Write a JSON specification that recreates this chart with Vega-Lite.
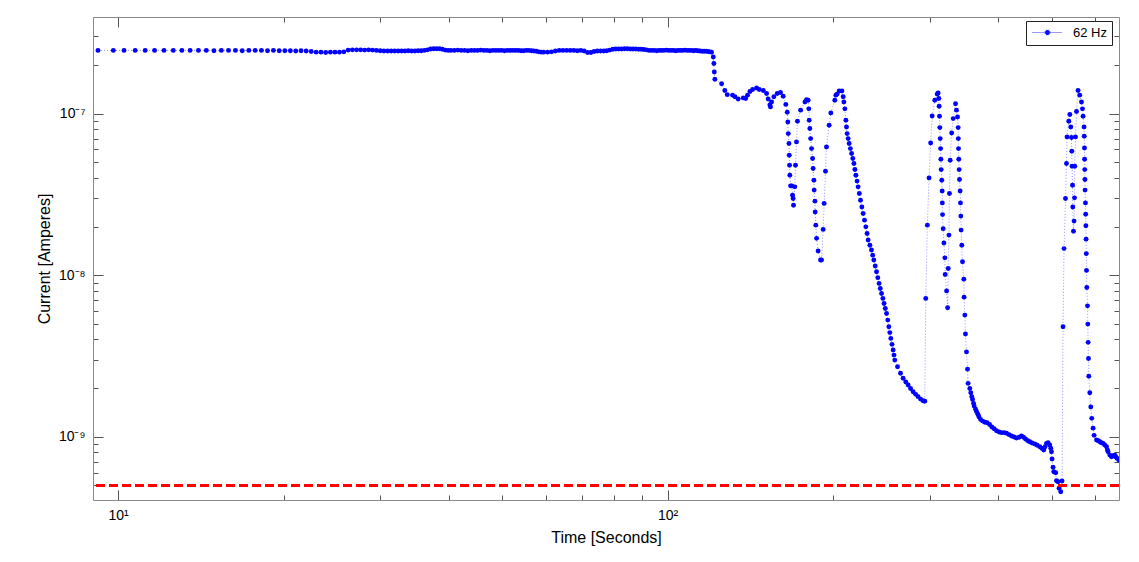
{
"$schema":"https://vega.github.io/schema/vega-lite/v6.json",
"width":1026,"height":483,
"autosize":{"type":"none"},
"padding":{"left":93,"top":17,"right":20,"bottom":62},
"background":"#ffffff",
"config":{"font":"Liberation Sans","view":{"stroke":null},"axis":{"grid":false,"domainColor":"#8a8a8a","domainWidth":1,"tickColor":"#555555","tickWidth":1,"labelFont":"Liberation Sans","labelFontSize":14,"labelColor":"#000000","titleFont":"Liberation Sans","titleFontSize":16,"titleFontWeight":"normal","titleColor":"#000000","labelOverlap":false,"labelFlush":false}},
"data":{"values":[
{"time":9.19,"current":2.46e-7},{"time":9.8,"current":2.46e-7},{"time":10.25,"current":2.46e-7},{"time":10.74,"current":2.46e-7},{"time":11.2,"current":2.46e-7},{"time":11.65,"current":2.46e-7},{"time":12.12,"current":2.46e-7},{"time":12.6,"current":2.46e-7},{"time":13.06,"current":2.46e-7},{"time":13.52,"current":2.46e-7},{"time":14.0,"current":2.46e-7},{"time":14.47,"current":2.46e-7},{"time":14.94,"current":2.45e-7},{"time":15.41,"current":2.46e-7},{"time":15.88,"current":2.46e-7},{"time":16.35,"current":2.46e-7},{"time":16.82,"current":2.45e-7},{"time":17.29,"current":2.46e-7},{"time":17.76,"current":2.46e-7},{"time":18.23,"current":2.46e-7},{"time":18.7,"current":2.45e-7},{"time":19.17,"current":2.46e-7},{"time":19.64,"current":2.45e-7},{"time":20.11,"current":2.45e-7},{"time":20.58,"current":2.45e-7},{"time":21.05,"current":2.44e-7},{"time":21.52,"current":2.45e-7},{"time":21.99,"current":2.44e-7},{"time":22.46,"current":2.42e-7},{"time":22.93,"current":2.40e-7},{"time":23.4,"current":2.40e-7},{"time":23.87,"current":2.39e-7},{"time":24.34,"current":2.40e-7},{"time":24.81,"current":2.40e-7},{"time":25.28,"current":2.40e-7},{"time":25.75,"current":2.41e-7},{"time":26.22,"current":2.47e-7},{"time":26.69,"current":2.48e-7},{"time":27.16,"current":2.48e-7},{"time":27.63,"current":2.48e-7},{"time":28.1,"current":2.47e-7},{"time":28.57,"current":2.48e-7},{"time":29.04,"current":2.47e-7},{"time":29.51,"current":2.46e-7},{"time":29.98,"current":2.45e-7},{"time":30.45,"current":2.44e-7},{"time":30.92,"current":2.44e-7},{"time":31.39,"current":2.44e-7},{"time":31.86,"current":2.44e-7},{"time":32.33,"current":2.44e-7},{"time":32.8,"current":2.44e-7},{"time":33.27,"current":2.44e-7},{"time":33.74,"current":2.45e-7},{"time":34.21,"current":2.44e-7},{"time":34.68,"current":2.44e-7},{"time":35.15,"current":2.45e-7},{"time":35.62,"current":2.45e-7},{"time":36.09,"current":2.46e-7},{"time":36.56,"current":2.48e-7},{"time":37.03,"current":2.51e-7},{"time":37.5,"current":2.52e-7},{"time":37.97,"current":2.52e-7},{"time":38.44,"current":2.52e-7},{"time":38.91,"current":2.50e-7},{"time":39.38,"current":2.47e-7},{"time":39.85,"current":2.46e-7},
{"time":40.3,"current":2.46e-7},{"time":40.9,"current":2.46e-7},{"time":41.5,"current":2.47e-7},{"time":42.1,"current":2.46e-7},{"time":42.7,"current":2.46e-7},{"time":43.3,"current":2.45e-7},{"time":43.9,"current":2.46e-7},{"time":44.5,"current":2.46e-7},{"time":45.1,"current":2.46e-7},{"time":45.7,"current":2.47e-7},{"time":46.3,"current":2.46e-7},{"time":46.9,"current":2.46e-7},{"time":47.5,"current":2.45e-7},{"time":48.1,"current":2.46e-7},{"time":48.7,"current":2.46e-7},{"time":49.3,"current":2.46e-7},{"time":49.9,"current":2.46e-7},{"time":50.5,"current":2.45e-7},{"time":51.1,"current":2.46e-7},{"time":51.7,"current":2.46e-7},{"time":52.3,"current":2.46e-7},{"time":52.9,"current":2.46e-7},{"time":53.5,"current":2.46e-7},{"time":54.1,"current":2.45e-7},{"time":54.7,"current":2.45e-7},{"time":55.3,"current":2.46e-7},{"time":55.9,"current":2.46e-7},{"time":56.5,"current":2.45e-7},{"time":57.1,"current":2.44e-7},{"time":57.7,"current":2.43e-7},{"time":58.3,"current":2.41e-7},{"time":58.9,"current":2.40e-7},{"time":59.5,"current":2.40e-7},
{"time":60.5,"current":2.40e-7},{"time":61.5,"current":2.41e-7},{"time":62.5,"current":2.44e-7},{"time":63.5,"current":2.46e-7},{"time":64.5,"current":2.46e-7},{"time":65.5,"current":2.46e-7},{"time":66.5,"current":2.46e-7},{"time":67.5,"current":2.46e-7},{"time":68.5,"current":2.45e-7},{"time":69.5,"current":2.46e-7},{"time":70.5,"current":2.44e-7},{"time":71.5,"current":2.39e-7},{"time":72.5,"current":2.39e-7},{"time":73.5,"current":2.42e-7},{"time":74.5,"current":2.44e-7},{"time":75.5,"current":2.44e-7},{"time":76.5,"current":2.44e-7},{"time":77.5,"current":2.45e-7},{"time":78.5,"current":2.47e-7},{"time":79.5,"current":2.50e-7},{"time":80.5,"current":2.51e-7},{"time":81.5,"current":2.51e-7},{"time":82.5,"current":2.51e-7},{"time":83.5,"current":2.52e-7},{"time":84.5,"current":2.52e-7},{"time":85.5,"current":2.51e-7},{"time":86.5,"current":2.51e-7},{"time":87.5,"current":2.51e-7},{"time":88.5,"current":2.50e-7},{"time":89.5,"current":2.50e-7},{"time":90.5,"current":2.49e-7},{"time":91.5,"current":2.48e-7},{"time":92.5,"current":2.46e-7},{"time":93.5,"current":2.46e-7},{"time":94.5,"current":2.46e-7},{"time":95.5,"current":2.45e-7},{"time":96.5,"current":2.46e-7},{"time":97.5,"current":2.46e-7},{"time":98.5,"current":2.46e-7},{"time":99.5,"current":2.47e-7},{"time":100.5,"current":2.46e-7},{"time":101.5,"current":2.46e-7},{"time":102.5,"current":2.46e-7},{"time":103.5,"current":2.45e-7},{"time":104.5,"current":2.46e-7},{"time":105.5,"current":2.46e-7},{"time":106.5,"current":2.46e-7},{"time":107.5,"current":2.47e-7},{"time":108.5,"current":2.46e-7},{"time":109.5,"current":2.46e-7},{"time":110.5,"current":2.46e-7},{"time":111.5,"current":2.45e-7},{"time":112.5,"current":2.46e-7},{"time":113.5,"current":2.45e-7},{"time":114.5,"current":2.44e-7},{"time":115.5,"current":2.43e-7},{"time":116.5,"current":2.43e-7},{"time":117.5,"current":2.43e-7},{"time":118.5,"current":2.42e-7},{"time":119.5,"current":2.41e-7},
{"time":120.2,"current":2.40e-7},{"time":121.1,"current":2.24e-7},{"time":121.4,"current":2.04e-7},{"time":121.6,"current":1.81e-7},{"time":121.9,"current":1.63e-7},{"time":125.4,"current":1.53e-7},{"time":127.1,"current":1.39e-7},{"time":128.4,"current":1.31e-7},{"time":131.3,"current":1.30e-7},{"time":132.6,"current":1.27e-7},{"time":134.4,"current":1.23e-7},{"time":137.3,"current":1.25e-7},{"time":138.7,"current":1.24e-7},{"time":139.8,"current":1.30e-7},{"time":141.2,"current":1.37e-7},{"time":142.8,"current":1.41e-7},{"time":145.2,"current":1.44e-7},{"time":146.8,"current":1.41e-7},{"time":149.3,"current":1.39e-7},{"time":151.4,"current":1.33e-7},{"time":152.4,"current":1.23e-7},{"time":153.5,"current":1.13e-7},{"time":153.9,"current":1.10e-7},{"time":154.6,"current":1.18e-7},{"time":156.1,"current":1.27e-7},{"time":158.3,"current":1.33e-7},{"time":160.5,"current":1.35e-7},{"time":162.3,"current":1.28e-7},{"time":164.1,"current":1.14e-7},{"time":165.1,"current":1.02e-7},{"time":165.5,"current":8.87e-8},{"time":165.8,"current":7.52e-8},{"time":166.3,"current":6.53e-8},{"time":166.5,"current":5.52e-8},{"time":166.7,"current":4.79e-8},{"time":166.9,"current":4.15e-8},{"time":167.4,"current":3.57e-8},{"time":168.3,"current":3.57e-8},{"time":168.8,"current":3.12e-8},{"time":169.2,"current":2.98e-8},{"time":169.5,"current":2.71e-8},{"time":170.4,"current":3.52e-8},{"time":170.9,"current":4.79e-8},{"time":171.6,"current":6.68e-8},{"time":172.3,"current":8.96e-8},{"time":174.6,"current":1.05e-7},{"time":177.8,"current":1.18e-7},{"time":179.0,"current":1.22e-7},{"time":180.2,"current":1.21e-7},{"time":180.7,"current":1.07e-7},{"time":181.0,"current":9.09e-8},{"time":181.5,"current":8.08e-8},{"time":182.1,"current":7.00e-8},{"time":182.8,"current":6.07e-8},{"time":183.6,"current":5.27e-8},{"time":184.0,"current":4.57e-8},{"time":184.6,"current":3.87e-8},{"time":184.8,"current":3.36e-8},{"time":185.4,"current":2.87e-8},{"time":185.6,"current":2.46e-8},{"time":186.1,"current":2.04e-8},{"time":186.7,"current":1.69e-8},{"time":187.9,"current":1.41e-8},{"time":189.8,"current":1.24e-8},{"time":190.6,"current":1.24e-8},{"time":191.9,"current":1.92e-8},{"time":192.7,"current":2.78e-8},{"time":193.8,"current":4.40e-8},{"time":194.6,"current":6.21e-8},{"time":196.8,"current":8.47e-8},{"time":198.2,"current":1.01e-7},{"time":201.5,"current":1.21e-7},{"time":202.4,"current":1.30e-7},{"time":203.5,"current":1.32e-7},{"time":205.2,"current":1.38e-7},{"time":207.6,"current":1.38e-7},{"time":208.7,"current":1.27e-7},{"time":209.3,"current":1.18e-7},{"time":210.2,"current":1.07e-7},{"time":211.1,"current":9.09e-8},{"time":211.6,"current":8.26e-8},{"time":212.2,"current":7.52e-8},{"time":213.1,"current":7.00e-8},{"time":214.0,"current":6.53e-8},{"time":215.1,"current":6.07e-8},{"time":216.2,"current":5.66e-8},{"time":217.3,"current":5.27e-8},{"time":218.3,"current":4.91e-8},{"time":219.2,"current":4.51e-8},{"time":220.1,"current":4.15e-8},{"time":221.2,"current":3.82e-8},{"time":222.2,"current":3.52e-8},{"time":223.3,"current":3.20e-8},{"time":224.4,"current":2.91e-8},{"time":225.7,"current":2.64e-8},{"time":226.9,"current":2.41e-8},{"time":228.2,"current":2.19e-8},{"time":229.5,"current":1.99e-8},{"time":230.7,"current":1.81e-8},{"time":231.7,"current":1.65e-8},{"time":233.4,"current":1.53e-8},{"time":235.0,"current":1.43e-8},{"time":236.2,"current":1.33e-8},{"time":237.3,"current":1.24e-8},{"time":238.7,"current":1.14e-8},{"time":240.0,"current":1.05e-8},{"time":241.3,"current":9.65e-9},{"time":242.6,"current":8.89e-9},{"time":243.8,"current":8.27e-9},{"time":245.1,"current":7.70e-9},{"time":246.5,"current":7.18e-9},{"time":247.7,"current":6.68e-9},{"time":249.0,"current":6.22e-9},{"time":250.3,"current":5.79e-9},{"time":251.6,"current":5.27e-9},{"time":252.7,"current":4.79e-9},{"time":253.8,"current":4.41e-9},{"time":254.8,"current":4.06e-9},{"time":256.1,"current":3.73e-9},{"time":257.3,"current":3.44e-9},{"time":258.2,"current":3.20e-9},{"time":259.1,"current":2.98e-9},{"time":262.1,"current":2.71e-9},{"time":265.4,"current":2.47e-9},{"time":268.3,"current":2.30e-9},{"time":271.3,"current":2.18e-9},{"time":274.0,"current":2.09e-9},{"time":276.8,"current":1.99e-9},{"time":279.8,"current":1.90e-9},{"time":282.8,"current":1.83e-9},{"time":285.7,"current":1.77e-9},{"time":288.6,"current":1.71e-9},{"time":291.7,"current":1.67e-9},{"time":293.8,"current":1.66e-9},
{"time":295.0,"current":7.18e-9},{"time":297.0,"current":2.04e-8},{"time":299.1,"current":4.00e-8},{"time":301.1,"current":6.58e-8},{"time":303.0,"current":9.66e-8},{"time":306.4,"current":1.21e-7},{"time":309.4,"current":1.32e-7},{"time":310.7,"current":1.34e-7},{"time":311.6,"current":1.24e-7},{"time":312.0,"current":1.11e-7},{"time":312.5,"current":9.62e-8},{"time":312.9,"current":8.19e-8},{"time":313.4,"current":7.00e-8},{"time":313.9,"current":6.07e-8},{"time":314.3,"current":5.22e-8},{"time":314.7,"current":4.50e-8},{"time":315.5,"current":3.87e-8},{"time":316.0,"current":3.32e-8},{"time":316.2,"current":2.80e-8},{"time":316.5,"current":2.37e-8},{"time":317.3,"current":1.94e-8},{"time":318.3,"current":1.58e-8},{"time":319.6,"current":1.28e-8},{"time":320.0,"current":1.01e-8},{"time":321.9,"current":7.99e-9},{"time":323.3,"current":6.28e-9},{"time":324.1,"current":1.10e-8},{"time":325.1,"current":1.77e-8},{"time":325.8,"current":3.20e-8},{"time":326.8,"current":5.14e-8},{"time":328.8,"current":7.59e-8},{"time":331.0,"current":9.31e-8},{"time":334.2,"current":1.15e-7},{"time":335.6,"current":1.05e-7},{"time":337.0,"current":9.53e-8},{"time":337.9,"current":8.19e-8},{"time":338.1,"current":7.00e-8},{"time":338.4,"current":6.07e-8},{"time":338.8,"current":5.22e-8},{"time":339.3,"current":4.50e-8},{"time":339.8,"current":3.91e-8},{"time":340.7,"current":3.32e-8},{"time":341.2,"current":2.80e-8},{"time":341.7,"current":2.32e-8},{"time":342.1,"current":1.90e-8},{"time":343.1,"current":1.53e-8},{"time":344.1,"current":1.21e-8},{"time":346.0,"current":9.45e-9},{"time":346.4,"current":7.31e-9},{"time":347.5,"current":5.66e-9},{"time":348.4,"current":4.32e-9},{"time":349.9,"current":3.35e-9},{"time":351.4,"current":2.62e-9},{"time":352.3,"current":2.14e-9},{"time":354.8,"current":1.99e-9},{"time":356.3,"current":1.87e-9},{"time":357.8,"current":1.77e-9},{"time":358.9,"current":1.70e-9},{"time":360.4,"current":1.61e-9},{"time":361.3,"current":1.55e-9},{"time":363.5,"current":1.48e-9},{"time":365.0,"current":1.43e-9},{"time":367.0,"current":1.38e-9},{"time":368.5,"current":1.33e-9},{"time":371.2,"current":1.28e-9},{"time":374.3,"current":1.25e-9},{"time":377.9,"current":1.23e-9},{"time":381.6,"current":1.22e-9},{"time":385.4,"current":1.19e-9},{"time":389.1,"current":1.15e-9},{"time":392.9,"current":1.12e-9},{"time":396.8,"current":1.09e-9},{"time":401.2,"current":1.07e-9},{"time":405.2,"current":1.06e-9},{"time":409.7,"current":1.06e-9},{"time":413.8,"current":1.05e-9},{"time":418.4,"current":1.03e-9},{"time":422.5,"current":1.01e-9},{"time":427.1,"current":9.96e-10},{"time":431.5,"current":9.82e-10},{"time":436.2,"current":9.92e-10},{"time":440.6,"current":1.01e-9},{"time":444.4,"current":9.92e-10},{"time":448.1,"current":9.68e-10},{"time":452.4,"current":9.45e-10},{"time":456.2,"current":9.31e-10},{"time":460.7,"current":9.14e-10},{"time":465.9,"current":9.01e-10},{"time":470.5,"current":8.85e-10},{"time":475.7,"current":8.67e-10},{"time":479.7,"current":8.48e-10},{"time":483.8,"current":8.28e-10},{"time":486.4,"current":8.67e-10},{"time":489.3,"current":9.10e-10},{"time":492.5,"current":9.18e-10},{"time":496.0,"current":8.89e-10},{"time":498.1,"current":8.48e-10},{"time":499.6,"current":8.07e-10},{"time":500.8,"current":7.28e-10},{"time":502.9,"current":6.47e-10},{"time":504.4,"current":6.07e-10},{"time":508.6,"current":5.99e-10},{"time":510.2,"current":5.34e-10},{"time":513.5,"current":5.27e-10},{"time":515.7,"current":4.80e-10},{"time":519.4,"current":4.57e-10},{"time":522.2,"current":5.32e-10},
{"time":524.4,"current":4.79e-9},{"time":526.6,"current":1.46e-8},{"time":529.8,"current":2.98e-8},{"time":532.0,"current":4.91e-8},{"time":533.3,"current":7.17e-8},{"time":537.2,"current":8.96e-8},{"time":539.5,"current":9.86e-8},{"time":541.7,"current":8.26e-8},{"time":543.3,"current":7.11e-8},{"time":544.0,"current":5.84e-8},{"time":544.7,"current":4.72e-8},{"time":545.6,"current":3.60e-8},{"time":546.3,"current":2.64e-8},{"time":547.8,"current":1.87e-8},{"time":549.2,"current":2.16e-8},{"time":550.2,"current":3.01e-8},{"time":550.8,"current":4.72e-8},{"time":552.5,"current":7.17e-8},{"time":554.8,"current":1.03e-7},{"time":558.5,"current":1.39e-7},{"time":562.5,"current":1.30e-7},{"time":566.5,"current":1.18e-7},{"time":568.9,"current":1.07e-7},{"time":570.3,"current":9.62e-8},{"time":572.7,"current":8.26e-8},{"time":573.2,"current":7.24e-8},{"time":573.7,"current":6.12e-8},{"time":574.0,"current":5.22e-8},{"time":574.4,"current":4.50e-8},{"time":574.8,"current":3.91e-8},{"time":575.1,"current":3.36e-8},{"time":576.1,"current":2.80e-8},{"time":576.6,"current":2.38e-8},{"time":577.1,"current":2.02e-8},{"time":577.6,"current":1.67e-8},{"time":578.1,"current":1.36e-8},{"time":578.6,"current":1.07e-8},{"time":579.3,"current":8.39e-9},{"time":581.0,"current":6.46e-9},{"time":581.8,"current":4.98e-9},{"time":582.5,"current":3.84e-9},{"time":583.4,"current":3.05e-9},{"time":584.2,"current":2.37e-9},{"time":586.6,"current":1.87e-9},{"time":589.1,"current":1.53e-9},{"time":591.5,"current":1.30e-9},{"time":594.8,"current":1.13e-9},{"time":597.3,"current":1.02e-9},{"time":603.4,"current":9.54e-10},{"time":608.0,"current":9.45e-10},{"time":611.8,"current":9.31e-10},{"time":615.9,"current":9.18e-10},{"time":620.3,"current":9.10e-10},{"time":624.5,"current":8.89e-10},{"time":629.2,"current":8.67e-10},{"time":631.6,"current":8.28e-10},{"time":633.4,"current":8.07e-10},{"time":637.9,"current":7.70e-10},{"time":642.5,"current":7.52e-10},{"time":646.7,"current":7.63e-10},{"time":651.3,"current":7.70e-10},{"time":654.0,"current":7.52e-10},{"time":657.7,"current":7.35e-10},{"time":662.5,"current":7.18e-10}
]},
"layer":[
{"mark":{"type":"line","color":"#0000ff","strokeWidth":0.8,"strokeDash":[1,2],"opacity":0.55,"clip":true},
 "encoding":{
  "x":{"field":"time","type":"quantitative","scale":{"type":"log","domain":[9.0,663],"nice":false},
   "axis":{"orient":"bottom","values":[10,20,30,40,50,60,70,80,90,100,200,300,400,500,600],"labelExpr":"datum.value==10?'10¹':datum.value==100?'10²':''","title":"Time [Seconds]","titlePadding":2,"labelPadding":18,"tickSize":{"condition":{"test":"datum.value==10||datum.value==100","value":-10},"value":-5}}},
  "y":{"field":"current","type":"quantitative","scale":{"type":"log","domain":[4.06e-10,3.96e-7],"nice":false},
   "axis":{"orient":"left","values":[5e-10,6e-10,7e-10,8e-10,9e-10,1e-9,2e-9,3e-9,4e-9,5e-9,6e-9,7e-9,8e-9,9e-9,1e-8,2e-8,3e-8,4e-8,5e-8,6e-8,7e-8,8e-8,9e-8,1e-7,2e-7,3e-7],"labelExpr":"datum.value==1e-7?'10⁻⁷':datum.value==1e-8?'10⁻⁸':datum.value==1e-9?'10⁻⁹':''","title":"Current [Amperes]","titlePadding":6,"labelPadding":18,"tickSize":{"condition":{"test":"datum.value==1e-7||datum.value==1e-8||datum.value==1e-9","value":-10},"value":-5}}}
 }},
{"mark":{"type":"point","filled":true,"size":24,"opacity":1,"clip":true},
 "encoding":{
  "x":{"field":"time","type":"quantitative","axis":{"orient":"top","values":[10,20,30,40,50,60,70,80,90,100,200,300,400,500,600],"labels":false,"title":null,"tickSize":{"condition":{"test":"datum.value==10||datum.value==100","value":-10},"value":-5}}},
  "y":{"field":"current","type":"quantitative","axis":{"orient":"right","values":[5e-10,6e-10,7e-10,8e-10,9e-10,1e-9,2e-9,3e-9,4e-9,5e-9,6e-9,7e-9,8e-9,9e-9,1e-8,2e-8,3e-8,4e-8,5e-8,6e-8,7e-8,8e-8,9e-8,1e-7,2e-7,3e-7],"labels":false,"title":null,"tickSize":{"condition":{"test":"datum.value==1e-7||datum.value==1e-8||datum.value==1e-9","value":-10},"value":-5}}},
  "color":{"datum":"62 Hz","type":"nominal","scale":{"range":["#0000ff"]},
   "legend":{"orient":"none","legendX":933,"legendY":4,"title":null,"padding":5,"strokeColor":"#222222","fillColor":"#ffffff","labelFontSize":13,"labelFont":"Liberation Sans","labelColor":"#000000","labelOffset":29,"symbolType":"M -1 0 L 5 0 M 2.5 0 A 0.5 0.5 0 1 1 1.5 0 A 0.5 0.5 0 1 1 2.5 0 Z","symbolSize":100,"symbolStrokeColor":"#3030ff","symbolStrokeWidth":1,"symbolDash":[1,1],"symbolFillColor":"#0000ff",
    "encode":{"symbols":{"update":{"fill":{"value":"#0000ff"},"stroke":{"value":"#3030ff"},"strokeOpacity":{"value":1},"strokeWidth":{"value":1},"strokeDash":{"value":[1,1]},"opacity":{"value":1},"size":{"value":100}}}}}}
 }},
{"data":{"values":[{}]},"mark":{"type":"rule","color":"#ff0000","strokeWidth":3,"strokeDash":[9,4]},
 "encoding":{"y":{"datum":5e-10,"type":"quantitative","axis":null}}}
],
"resolve":{"axis":{"x":"independent","y":"independent"}}
}
